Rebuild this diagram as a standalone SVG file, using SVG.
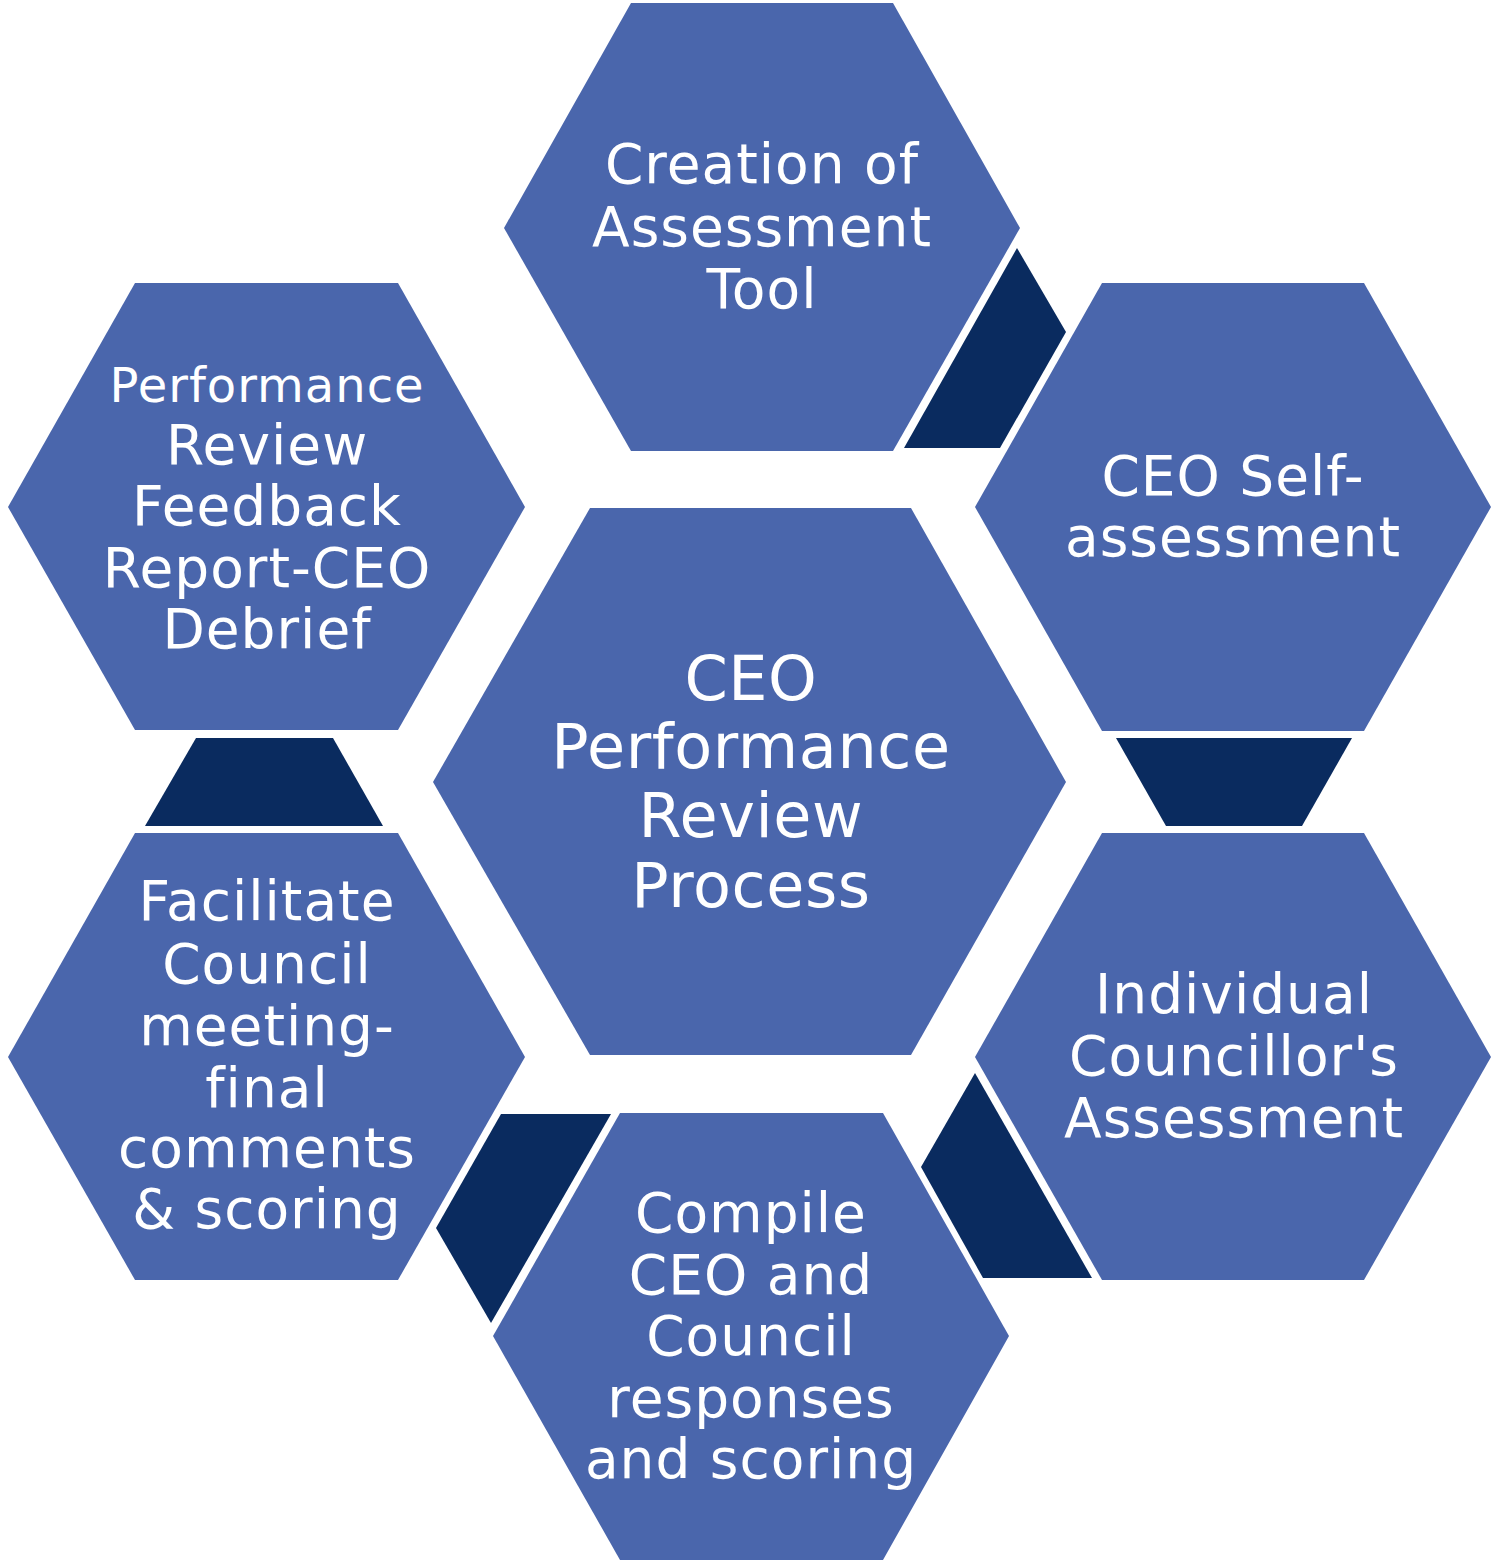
<svg xmlns="http://www.w3.org/2000/svg" width="1500" height="1568" viewBox="0 0 1500 1568">
<style>
.hex{fill:#4A66AC;}
.con{fill:#0A2B5F;}
.t{font-family:"DejaVu Sans","Verdana",sans-serif;fill:#FFFFFF;text-anchor:middle;font-size:55px;letter-spacing:1px;font-variant-ligatures:none;}
.c{font-size:62px;letter-spacing:0.6px;}
.s{font-size:48px;letter-spacing:1px;}
</style>
<rect width="1500" height="1568" fill="#FFFFFF"/>
<g id="connectors">
<polygon class="con" points="904,448 1017,248 1066,332 1000,448"/>
<polygon class="con" points="1116,738 1352,738 1302,826 1166,826"/>
<polygon class="con" points="975,1073 1092,1278 983,1278 921,1167"/>
<polygon class="con" points="501,1114 611,1114 491,1323 436,1228"/>
<polygon class="con" points="196,738 333,738 383,826 145,826"/>
</g>
<g id="center">
<polygon class="hex" points="590,508 911,508 1066,782 911,1055 590,1055 433,782"/>
<text class="t c" x="751" y="700">CEO</text>
<text class="t c" x="751" y="768">Performance</text>
<text class="t c" x="751" y="837">Review</text>
<text class="t c" x="751" y="907">Process</text>
</g>
<g id="creation">
<polygon class="hex" points="631,3 893,3 1020,228 893,451 631,451 504,228"/>
<text class="t" x="762" y="183">Creation of</text>
<text class="t" x="762" y="246">Assessment</text>
<text class="t" x="762" y="308">Tool</text>
</g>
<g id="self">
<polygon class="hex" points="1102,283 1364,283 1491,507 1364,731 1102,731 975,507"/>
<text class="t" x="1233" y="495">CEO Self-</text>
<text class="t" x="1233" y="556">assessment</text>
</g>
<g id="individual">
<polygon class="hex" points="1102,833 1364,833 1491,1057 1364,1280 1102,1280 975,1057"/>
<text class="t" x="1234" y="1013">Individual</text>
<text class="t" x="1234" y="1075">Councillor's</text>
<text class="t" x="1234" y="1137">Assessment</text>
</g>
<g id="compile">
<polygon class="hex" points="620,1113 883,1113 1009,1336 883,1560 620,1560 493,1336"/>
<text class="t" x="751" y="1232">Compile</text>
<text class="t" x="751" y="1294">CEO and</text>
<text class="t" x="751" y="1355">Council</text>
<text class="t" x="751" y="1417">responses</text>
<text class="t" x="751" y="1478">and scoring</text>
</g>
<g id="facilitate">
<polygon class="hex" points="135,833 398,833 525,1057 398,1280 135,1280 8,1057"/>
<text class="t" x="267" y="920">Facilitate</text>
<text class="t" x="267" y="983">Council</text>
<text class="t" x="267" y="1045">meeting-</text>
<text class="t" x="267" y="1107">final</text>
<text class="t" x="267" y="1167">comments</text>
<text class="t" x="267" y="1228">&amp; scoring</text>
</g>
<g id="feedback">
<polygon class="hex" points="135,283 398,283 525,507 398,730 135,730 8,507"/>
<text class="t s" x="267" y="402">Performance</text>
<text class="t" x="267" y="464">Review</text>
<text class="t" x="267" y="525">Feedback</text>
<text class="t" x="267" y="587">Report-CEO</text>
<text class="t" x="267" y="648">Debrief</text>
</g>
</svg>
